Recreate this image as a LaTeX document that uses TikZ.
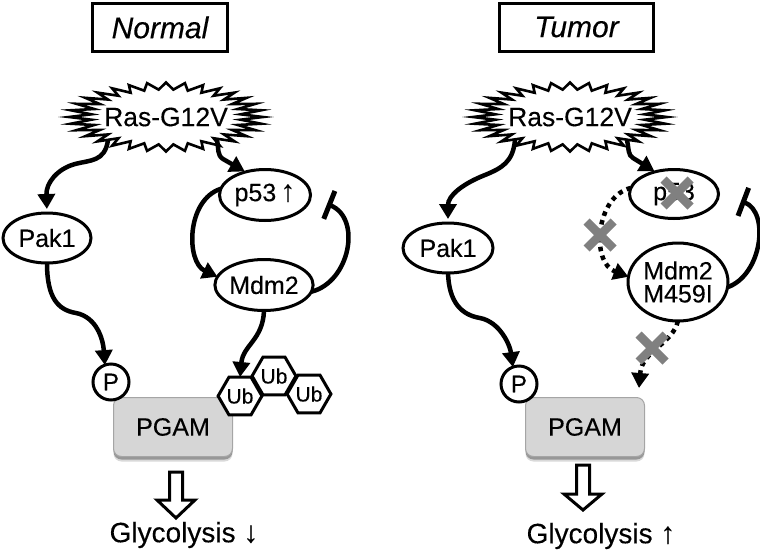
\documentclass[tikz,border=0pt]{standalone}
\usepackage{fontspec}
\setmainfont{Liberation Sans}[FakeBold=0.25]
\usetikzlibrary{shapes.geometric,shapes.misc,arrows.meta,shadows,calc}
\definecolor{xgray}{RGB}{128,128,128}
\definecolor{pgamfill}{RGB}{214,214,214}
\definecolor{pgamline}{RGB}{165,165,165}
\newcommand{\uparr}{{\fontsize{30}{24}\selectfont ↑}}
\newcommand{\dnarr}{{\fontsize{30}{24}\selectfont ↓}}
\begin{document}
\begin{tikzpicture}[x=1pt,y=-1pt,
  every node/.style={inner sep=0pt, outer sep=0pt},
  big/.style={font=\fontsize{25}{25}\selectfont},
  rastext/.style={font=\fontsize{26.5}{26.5}\selectfont},
  ell/.style={ellipse, draw, line width=3pt, fill=white, big},
  titlebox/.style={draw, line width=3pt, minimum height=48pt, font=\fontsize{30}{30}\selectfont\itshape},
  burst/.style={line width=2.6pt, line join=miter, fill=white},
  conn/.style={line width=4.5pt, -{Triangle[length=15pt,width=17pt]}},
  dotconn/.style={conn, dash pattern=on 4.5pt off 4.5pt},
  inhib/.style={line width=4.5pt, -{Bar[width=30pt,line width=5pt]}},
  xmark/.style={cross out, draw=xgray, line width=8.5pt, minimum width=27pt, minimum height=27pt},
  phos/.style={circle, draw, line width=3pt, fill=white, minimum size=36pt, font=\fontsize{24}{24}\selectfont},
  ub/.style={regular polygon, regular polygon sides=6, draw, line width=3pt, minimum size=41pt, fill=white, font=\fontsize{21}{21}\selectfont},
  pgam/.style={rounded corners=8pt, fill=pgamfill, draw=pgamline, line width=1pt, minimum width=119pt, minimum height=59pt, big,
     drop shadow={shadow xshift=0pt, shadow yshift=-5pt, opacity=0.15, fill=black},
     drop shadow={shadow xshift=0pt, shadow yshift=-3pt, opacity=0.3, fill=black}},
  hollow/.style={draw, line width=3pt, fill=white, line join=miter},
  gly/.style={font=\fontsize{28}{28}\selectfont}
]
\useasboundingbox (0,0) rectangle (760,552);

% ---------------- Normal ----------------
\node[titlebox, minimum width=135pt] (titleA) at (160,27.5) {Normal};

\coordinate (rascA) at (166,117);
\draw[burst, shift={(rascA)}] plot[samples at={0,...,63}, variable=\i]
   ({\i*5.625}:{86+11*cos(\i*180)} and {31+3.5*cos(\i*180)}) -- cycle;
\node[rastext] (rasA) at (rascA) {Ras-G12V};

\node[ell, minimum width=91pt, minimum height=51pt] (p53A) at (265,195) {p53\,\uparr};
\node[ell, minimum width=89pt, minimum height=51pt] (mdmA) at (264,285) {Mdm2};
\node[ell, minimum width=88pt, minimum height=50pt] (pakA) at (47,238) {Pak1};

\node[pgam] (pgamA) at (173,427) {PGAM};
\node[phos] (pA) at (111,382) {P};
\node[ub] (ub2) at (274,376) {Ub};
\node[ub] (ub1) at (240,396) {Ub};
\node[ub] (ub3) at (309,394) {Ub};

\draw[conn, shorten >=4pt] ($(rascA)+(-58,23)$) .. controls ($(rascA)+(-61,45)$) and (90,160) .. (75,164)
   .. controls (57,169) and (46,183) .. (pakA.north);
\draw[conn, shorten >=1pt] ($(rascA)+(51,23)$) .. controls (219,150) and (217,155) .. (223,159) -- (p53A.130);
\draw[conn] (p53A.172) .. controls (186,200) and (186,262) .. (mdmA.170);
\coordinate (inhA) at (327,204);
\draw[inhib] (mdmA.-8) .. controls (350,282) and (362,218) .. (inhA);
\draw[conn] (mdmA.south) .. controls (263,340) and (243,345) .. (ub1.north);
\draw[conn] (pakA.south) .. controls (47,298) and (58,310) .. (76,313)
   .. controls (96,317) and (103,338) .. (pA.110);

\coordinate (hA) at (176,472);
\draw[hollow] (hA) ++(-6.5,0) -- ++(0,28) -- ++(-12.5,0) -- ++(19,18) -- ++(19,-18) -- ++(-12.5,0) -- ++(0,-28) -- cycle;
\node[gly] (glyA) at (184,535) {Glycolysis \dnarr};

% ---------------- Tumor ----------------
\node[titlebox, minimum width=154pt] (titleB) at (576.5,27) {Tumor};

\coordinate (rascB) at (570,117);
\draw[burst, shift={(rascB)}] plot[samples at={0,...,63}, variable=\i]
   ({\i*5.625}:{86+11*cos(\i*180)} and {31+3.5*cos(\i*180)}) -- cycle;
\node[rastext] (rasB) at (rascB) {Ras-G12V};

\node[ell, minimum width=89pt, minimum height=49pt] (p53B) at (674,194) {p53};
\node[xmark] (xp53) at (677,193) {};
\node[ell, minimum width=100pt, minimum height=78pt, align=center, font=\fontsize{25}{23}\selectfont] (mdmB) at (678,282) {Mdm2\\M459I};
\node[ell, minimum width=90pt, minimum height=50pt] (pakB) at (448,248) {Pak1};

\node[pgam] (pgamB) at (585,427) {PGAM};
\node[phos] (pB) at (519,384) {P};

\draw[conn, shorten >=4pt] ($(rascB)+(-55,23)$) .. controls (513,162) and (502,168) .. (485,175)
   .. controls (462,184) and (448,196) .. (pakB.north);
\draw[conn, shorten >=1pt] ($(rascB)+(57,23)$) .. controls (629,150) and (628,155) .. (633,158) -- (p53B.130);
\draw[dotconn] (p53B.172) .. controls (596,196) and (590,262) .. (mdmB.174);
\node[xmark] (xa) at (600,235) {};
\coordinate (inhB) at (741,201);
\draw[inhib] (mdmB.-6) .. controls (762,275) and (770,212) .. (inhB);
\coordinate (tipB) at (639,388);
\draw[dotconn] (mdmB.south) .. controls (672,345) and (642,350) .. (tipB);
\node[xmark] (xb) at (652,348) {};
\draw[conn] (pakB.south) .. controls (449,303) and (462,315) .. (480,318)
   .. controls (500,322) and (510,345) .. (pB.110);

\coordinate (hB) at (583,465);
\draw[hollow] (hB) ++(-6.5,0) -- ++(0,29) -- ++(-12.5,0) -- ++(19,16) -- ++(19,-16) -- ++(-12.5,0) -- ++(0,-29) -- cycle;
\node[gly] (glyB) at (601,536) {Glycolysis \uparr};
\end{tikzpicture}
\end{document}
